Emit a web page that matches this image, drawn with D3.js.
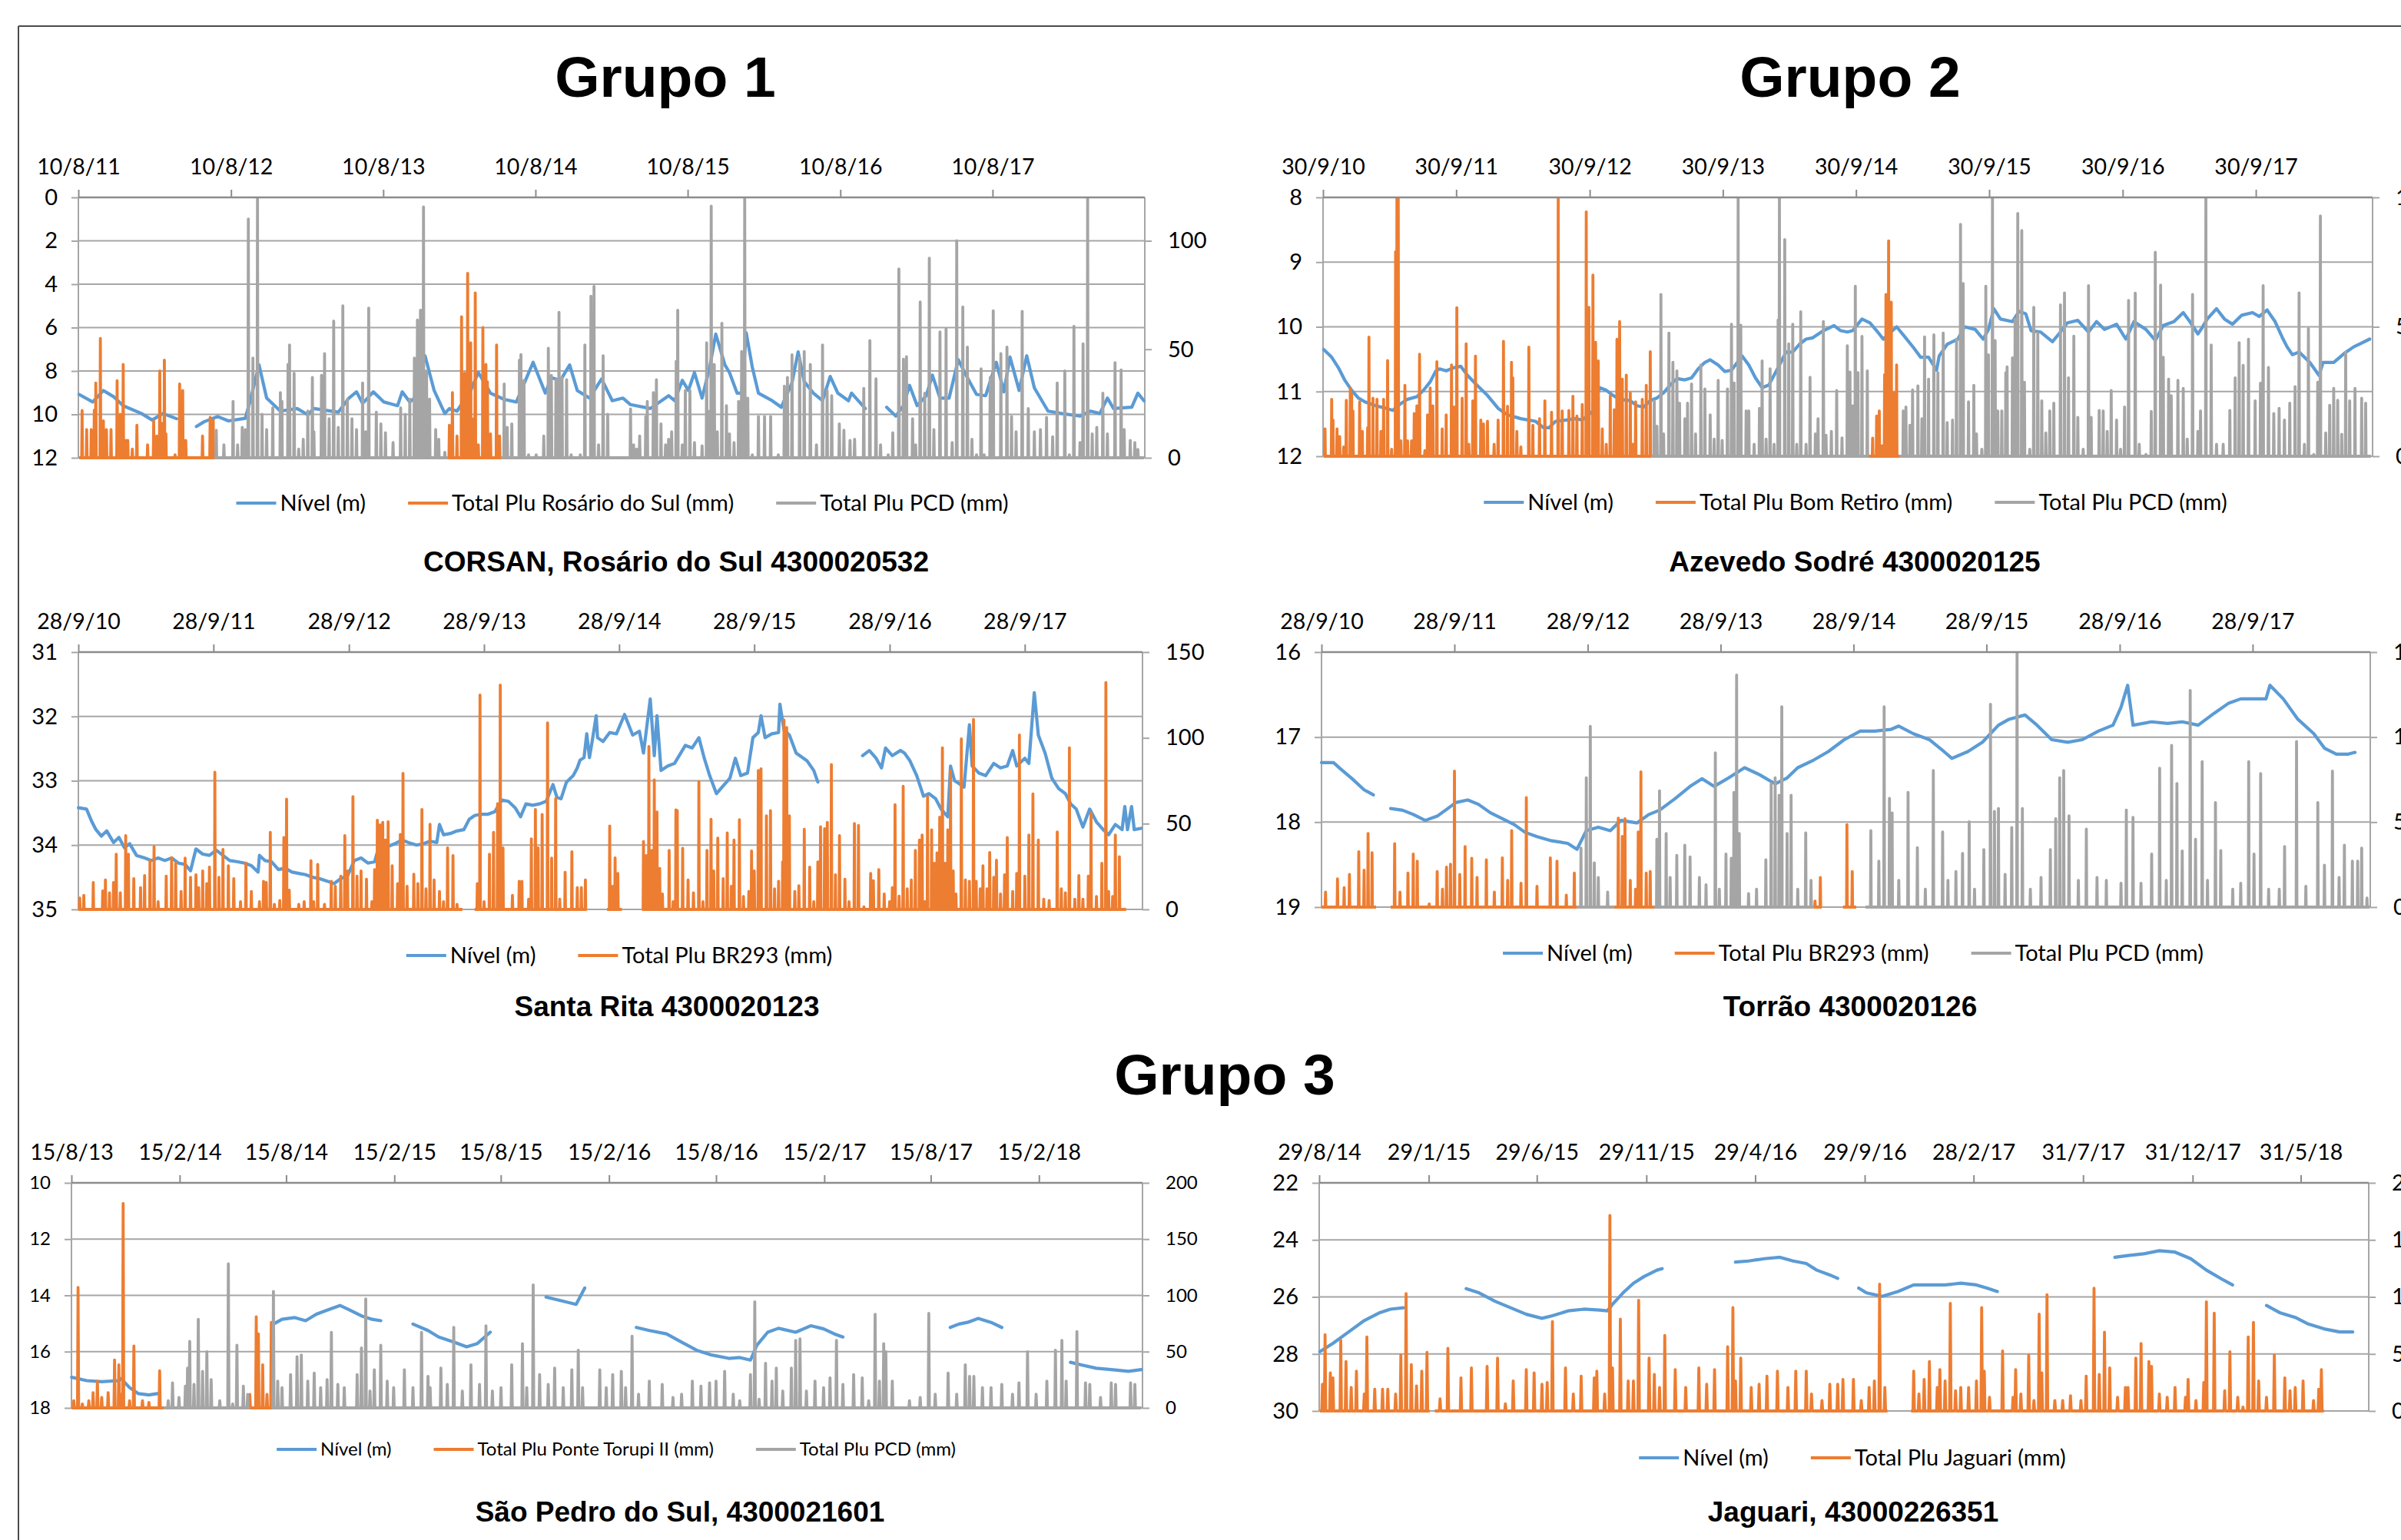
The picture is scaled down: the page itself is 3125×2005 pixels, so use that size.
<!DOCTYPE html>
<html><head><meta charset="utf-8">
<script src="https://cdn.jsdelivr.net/npm/d3@7"></script>
<style>
html,body{margin:0;padding:0;background:#fff;}
svg{display:block;}
</style></head><body>
<svg id="chart" width="3125" height="2005"></svg>
<script>
// ---------------- DATA ----------------
// x values are decimal years
const seriesNames = {
  level: "Nível (m)",
  pcd: "Total Plu PCD (mm)"
};

// Panel 1 – CORSAN, Rosário do Sul 4300020532
const p1TickLabels = ["10/8/11","10/8/12","10/8/13","10/8/14","10/8/15","10/8/16","10/8/17"];
const p1Level = [[2011.61,9.08],[2011.70,9.43],[2011.77,8.90],[2011.84,9.20],[2011.90,9.60],[2012.02,9.96],[2012.09,10.26],[2012.16,9.96],[2012.25,10.20],[2012.30,null],[2012.38,10.56],[2012.43,10.34],[2012.52,10.10],[2012.59,10.30],[2012.70,10.18],[2012.73,9.43],[2012.79,7.72],[2012.84,9.25],[2012.93,9.85],[2013.04,9.73],[2013.11,10.02],[2013.15,9.73],[2013.31,9.90],[2013.38,9.25],[2013.43,8.96],[2013.47,9.50],[2013.54,8.96],[2013.61,9.43],[2013.70,9.60],[2013.73,8.96],[2013.78,9.43],[2013.81,9.25],[2013.88,7.30],[2013.94,8.90],[2014.01,9.96],[2014.04,9.73],[2014.09,9.85],[2014.18,8.90],[2014.23,8.07],[2014.31,9.02],[2014.40,9.31],[2014.48,9.43],[2014.54,8.43],[2014.59,7.60],[2014.67,9.02],[2014.71,8.31],[2014.77,8.43],[2014.83,7.72],[2014.88,8.90],[2014.96,9.25],[2015.04,8.37],[2015.11,9.37],[2015.18,9.25],[2015.23,9.55],[2015.36,9.73],[2015.48,9.14],[2015.52,9.37],[2015.57,8.43],[2015.61,8.90],[2015.65,8.07],[2015.70,9.25],[2015.75,7.83],[2015.79,6.30],[2015.85,7.72],[2015.88,8.07],[2015.93,9.02],[2015.96,9.02],[2015.99,6.24],[2016.03,7.83],[2016.07,9.02],[2016.16,9.37],[2016.22,9.67],[2016.29,8.54],[2016.33,7.12],[2016.37,8.49],[2016.43,9.02],[2016.49,9.37],[2016.54,8.25],[2016.59,9.02],[2016.66,9.37],[2016.68,9.02],[2016.77,9.73],[2016.84,null],[2016.91,9.67],[2016.97,10.08],[2017.02,9.60],[2017.06,8.66],[2017.11,9.60],[2017.17,9.14],[2017.21,8.19],[2017.26,9.25],[2017.32,9.25],[2017.38,7.48],[2017.44,8.31],[2017.50,9.08],[2017.56,9.14],[2017.63,7.60],[2017.68,8.96],[2017.72,7.36],[2017.78,8.90],[2017.83,7.30],[2017.88,8.78],[2017.97,9.85],[2018.06,9.96],[2018.18,10.08],[2018.25,9.85],[2018.31,9.96],[2018.36,9.25],[2018.40,9.73],[2018.52,9.67],[2018.56,9.02],[2018.60,9.37]];
const p1Rosario = [[2011.63,21.8],[2011.66,13],[2011.69,13],[2011.71,22],[2011.72,34.5],[2011.75,55],[2011.77,17],[2011.79,13],[2011.82,13],[2011.86,35.5],[2011.88,20],[2011.90,43],[2011.92,8],[2011.93,8],[2011.96,4],[2011.99,15],[2012.06,6],[2012.10,17],[2012.12,10],[2012.14,40],[2012.15,16],[2012.17,45],[2012.18,11],[2012.24,1.4],[2012.27,34],[2012.29,31],[2012.31,8],[2012.42,10],[2012.47,18.6],[2012.49,17.4],[2014.04,15],[2014.06,30],[2014.09,10],[2014.12,65],[2014.14,39],[2014.16,85],[2014.18,53],[2014.20,18],[2014.21,76],[2014.23,6],[2014.26,60],[2014.28,43],[2014.29,35],[2014.31,11],[2014.35,52],[2014.37,10]];
const p1RosarioSpans = [[2011.61,2012.50],[2014.03,2014.38]];
const p1PCD = [[2012.51,12.7],[2012.56,6],[2012.62,26],[2012.65,6],[2012.68,14],[2012.70,13],[2012.72,110],[2012.75,46],[2012.78,120],[2012.81,20],[2012.84,13],[2012.88,23],[2012.93,30],[2012.94,26],[2012.98,43],[2012.99,52],[2013.02,39],[2013.05,4],[2013.08,8.5],[2013.11,21.5],[2013.14,37],[2013.15,12],[2013.20,38],[2013.22,48],[2013.25,18],[2013.28,63],[2013.31,14],[2013.34,70],[2013.37,27],[2013.40,18],[2013.43,13],[2013.47,34.5],[2013.49,12],[2013.51,69],[2013.56,21],[2013.59,15.6],[2013.62,11.5],[2013.67,7],[2013.72,23],[2013.75,20],[2013.78,27],[2013.81,46],[2013.83,63.5],[2013.85,68],[2013.86,68],[2013.87,115.6],[2013.89,40],[2013.91,27],[2013.95,13],[2013.97,8.5],[2014.01,2.5],[2014.40,34],[2014.42,14],[2014.45,15.6],[2014.50,45],[2014.51,47.6],[2014.53,35.7],[2014.56,1.4],[2014.61,1.4],[2014.66,10],[2014.69,50.5],[2014.71,38],[2014.74,36],[2014.76,67],[2014.78,37],[2014.81,36],[2014.84,1.4],[2014.90,1.4],[2014.93,52],[2014.97,74.5],[2014.99,79],[2015.02,6],[2015.05,47],[2015.08,20],[2015.23,22.5],[2015.25,6],[2015.27,4],[2015.29,10],[2015.33,19],[2015.34,26],[2015.38,30],[2015.40,36],[2015.43,15.6],[2015.46,6],[2015.48,8.5],[2015.50,12],[2015.53,44.5],[2015.54,68],[2015.57,6],[2015.59,31],[2015.62,31],[2015.65,7],[2015.70,5.5],[2015.73,53],[2015.75,21.5],[2015.76,116],[2015.78,43],[2015.80,12],[2015.83,62],[2015.86,24],[2015.88,11],[2015.91,7],[2015.94,26],[2015.96,49],[2015.98,120],[2016.00,27.5],[2016.03,1.4],[2016.07,19],[2016.11,19],[2016.15,19],[2016.20,1.4],[2016.24,33],[2016.26,37],[2016.29,47.5],[2016.34,46],[2016.37,49],[2016.41,43],[2016.45,6],[2016.49,52],[2016.52,31],[2016.55,28.6],[2016.60,15.6],[2016.63,12.7],[2016.67,8],[2016.70,8.5],[2016.76,32],[2016.80,54],[2016.84,36.4],[2016.87,6],[2016.92,1.4],[2016.95,11.5],[2016.99,87],[2017.02,45.4],[2017.04,46.6],[2017.08,18],[2017.10,6],[2017.13,71.8],[2017.16,29.8],[2017.19,92],[2017.22,13],[2017.26,58],[2017.30,59.4],[2017.34,7],[2017.37,100],[2017.41,69.5],[2017.44,51],[2017.47,8.5],[2017.50,1.4],[2017.53,41],[2017.55,1.4],[2017.59,37],[2017.61,67.7],[2017.66,48],[2017.70,51],[2017.73,19],[2017.76,12],[2017.80,67.5],[2017.84,22.7],[2017.88,12],[2017.92,13],[2017.96,18.6],[2018.00,9.7],[2018.03,34.5],[2018.08,40],[2018.11,1.4],[2018.14,60.6],[2018.18,7],[2018.20,52.5],[2018.23,120],[2018.26,11],[2018.29,14],[2018.33,29.8],[2018.36,11],[2018.41,43.8],[2018.45,40.5],[2018.47,13],[2018.51,8],[2018.54,7],[2018.56,3.8]];
const p1PCDSpans = [[2012.50,2014.03],[2014.38,2018.60]];

// Panel 2 – Azevedo Sodré 4300020125
const p2TickLabels = ["30/9/10","30/9/11","30/9/12","30/9/13","30/9/14","30/9/15","30/9/16","30/9/17"];
const p2Level = [[2010.75,10.35],[2010.81,10.47],[2010.86,10.63],[2010.91,10.83],[2010.96,10.98],[2011.01,11.10],[2011.06,11.16],[2011.14,11.22],[2011.22,11.26],[2011.27,11.29],[2011.32,11.20],[2011.38,11.12],[2011.45,11.08],[2011.50,10.98],[2011.55,10.85],[2011.59,10.69],[2011.62,10.65],[2011.67,10.68],[2011.73,10.63],[2011.78,10.61],[2011.83,10.75],[2011.90,10.90],[2011.98,11.06],[2012.06,11.26],[2012.13,11.36],[2012.23,11.42],[2012.34,11.46],[2012.40,11.56],[2012.44,11.56],[2012.49,11.46],[2012.57,11.44],[2012.64,11.42],[2012.69,11.44],[2012.77,11.30],[2012.82,10.94],[2012.87,10.98],[2012.92,11.06],[2012.97,11.12],[2013.05,11.14],[2013.10,11.22],[2013.15,11.24],[2013.20,11.14],[2013.25,11.10],[2013.30,11.02],[2013.35,10.90],[2013.40,10.80],[2013.46,10.82],[2013.51,10.79],[2013.56,10.65],[2013.61,10.55],[2013.65,10.51],[2013.71,10.59],[2013.76,10.69],[2013.81,10.67],[2013.89,10.45],[2013.94,10.59],[2013.99,10.79],[2014.04,10.94],[2014.09,10.90],[2014.14,10.71],[2014.22,10.39],[2014.27,10.39],[2014.32,10.27],[2014.37,10.19],[2014.42,10.17],[2014.50,10.06],[2014.58,9.98],[2014.63,10.06],[2014.68,10.08],[2014.72,10.06],[2014.79,9.88],[2014.85,9.94],[2014.90,10.06],[2014.95,10.19],[2015.05,10.00],[2015.11,10.15],[2015.18,10.33],[2015.23,10.47],[2015.29,10.47],[2015.35,10.67],[2015.37,10.45],[2015.43,10.27],[2015.51,10.19],[2015.56,10.00],[2015.64,10.04],[2015.70,10.19],[2015.74,10.04],[2015.78,9.72],[2015.83,9.88],[2015.92,9.92],[2015.97,9.76],[2016.02,9.80],[2016.06,10.06],[2016.13,10.08],[2016.22,10.23],[2016.28,10.08],[2016.33,9.94],[2016.41,9.90],[2016.49,10.08],[2016.55,9.92],[2016.61,10.04],[2016.70,9.96],[2016.77,10.19],[2016.83,9.92],[2016.92,10.04],[2016.99,10.21],[2017.05,9.98],[2017.13,9.92],[2017.20,9.78],[2017.25,9.92],[2017.31,10.11],[2017.34,10.02],[2017.38,9.88],[2017.45,9.72],[2017.51,9.88],[2017.57,9.96],[2017.64,9.82],[2017.72,9.78],[2017.77,9.84],[2017.83,9.74],[2017.89,9.92],[2017.95,10.19],[2017.98,10.31],[2018.02,10.43],[2018.07,10.39],[2018.15,10.55],[2018.22,10.75],[2018.25,10.55],[2018.33,10.55],[2018.41,10.41],[2018.48,10.31],[2018.54,10.25],[2018.60,10.19]];
const p2BomRetiro = [[2010.76,10.6],[2010.81,22],[2010.82,14],[2010.85,10.6],[2010.87,7.6],[2010.90,3.6],[2010.92,21.6],[2010.95,26.4],[2010.96,24],[2010.97,17.5],[2011.02,21],[2011.04,9.6],[2011.08,11],[2011.09,46],[2011.12,22.4],[2011.15,22],[2011.18,9.6],[2011.20,22],[2011.23,37],[2011.26,2.7],[2011.29,79],[2011.30,100],[2011.31,100],[2011.33,6],[2011.36,27.4],[2011.38,6],[2011.41,6],[2011.43,16.5],[2011.45,19.5],[2011.47,39.4],[2011.51,2.2],[2011.53,16],[2011.55,26.4],[2011.57,19.5],[2011.60,36.5],[2011.64,10.6],[2011.67,16],[2011.71,35.3],[2011.73,19],[2011.75,57.4],[2011.79,22.4],[2011.82,43.4],[2011.84,4.6],[2011.87,21.4],[2011.89,38.7],[2011.93,14],[2011.95,12.5],[2011.98,13.5],[2012.03,4.6],[2012.06,14],[2012.10,44.4],[2012.13,19.3],[2012.16,36.3],[2012.17,30.3],[2012.20,9.6],[2012.23,3.6],[2012.29,42.2],[2012.32,12],[2012.37,14.5],[2012.41,21.4],[2012.46,17],[2012.51,100],[2012.54,17.5],[2012.59,17.7],[2012.62,23.2],[2012.65,15.5],[2012.69,20],[2012.72,94.4],[2012.74,57.5],[2012.77,70],[2012.79,44],[2012.81,36.8],[2012.84,10.6],[2012.87,4.6],[2012.90,23.4],[2012.93,18],[2012.95,45.2],[2012.97,52],[2012.99,29.8],[2013.02,31.3],[2013.05,24.4],[2013.07,4.6],[2013.09,21],[2013.14,22],[2013.17,27.4],[2013.20,40.4],[2014.87,7],[2014.90,15.5],[2014.92,17.5],[2014.94,4],[2014.96,31.5],[2014.97,62.5],[2014.99,83.2],[2015.01,59.5],[2015.03,24.4],[2015.05,35.3]];
const p2BomRetiroSpans = [[2010.75,2013.21],[2014.84,2015.07]];
const p2PCD = [[2013.23,21.4],[2013.25,11.6],[2013.28,62.5],[2013.30,8.6],[2013.34,47.6],[2013.37,36.3],[2013.40,33],[2013.42,20.5],[2013.46,14.5],[2013.48,20.5],[2013.51,27.9],[2013.54,8.6],[2013.58,35.3],[2013.61,26],[2013.65,16],[2013.68,6.6],[2013.71,29.3],[2013.74,6.1],[2013.78,26],[2013.81,51],[2013.83,28.3],[2013.86,100],[2013.88,50.6],[2013.92,17.5],[2013.94,17.5],[2013.98,4.6],[2014.02,18.5],[2014.04,36.8],[2014.07,6.6],[2014.10,33.8],[2014.13,4.6],[2014.16,52.6],[2014.17,100],[2014.21,83.7],[2014.24,43.4],[2014.27,51],[2014.30,4.6],[2014.33,55.8],[2014.37,4.6],[2014.40,30.5],[2014.44,8.6],[2014.46,14.5],[2014.50,52],[2014.52,8.1],[2014.56,9.6],[2014.60,25.4],[2014.64,7.1],[2014.68,42.7],[2014.70,32.5],[2014.72,19.5],[2014.74,65.7],[2014.76,32.3],[2014.79,46.3],[2014.83,33],[2015.10,17.5],[2015.12,19],[2015.15,12],[2015.17,25.6],[2015.21,27.2],[2015.24,14.5],[2015.26,46.1],[2015.29,29.8],[2015.33,46.9],[2015.36,32.3],[2015.40,47.6],[2015.43,13],[2015.47,14],[2015.50,45.2],[2015.53,89.6],[2015.55,66.7],[2015.59,21],[2015.63,27.4],[2015.65,8.6],[2015.69,2.7],[2015.72,65.7],[2015.74,39.2],[2015.77,100],[2015.79,44.7],[2015.81,17.5],[2015.84,17.5],[2015.87,32.3],[2015.88,34.5],[2015.92,38],[2015.94,52.9],[2015.96,93.8],[2015.99,87.2],[2016.01,28.6],[2016.05,2.7],[2016.08,57.5],[2016.11,47.6],[2016.14,21.4],[2016.17,9],[2016.20,17.5],[2016.23,20.5],[2016.28,58.5],[2016.31,63.1],[2016.34,30.3],[2016.38,46.4],[2016.41,15],[2016.45,2.7],[2016.49,65.9],[2016.51,15],[2016.57,17.7],[2016.60,17.5],[2016.63,9.6],[2016.66,25.4],[2016.70,14],[2016.73,2.7],[2016.76,19],[2016.79,60.2],[2016.84,63],[2016.87,4.6],[2016.92,0.7],[2016.96,17.3],[2016.99,78.8],[2017.03,66.1],[2017.05,38.2],[2017.09,29.8],[2017.11,23.4],[2017.16,29.3],[2017.20,26.2],[2017.23,6.6],[2017.27,62.5],[2017.31,9.6],[2017.33,17.5],[2017.37,100],[2017.41,43],[2017.45,4.6],[2017.50,4.6],[2017.55,17.7],[2017.59,30.3],[2017.62,43.9],[2017.65,35.1],[2017.69,45.2],[2017.74,21.4],[2017.78,28.2],[2017.80,65.9],[2017.84,34.3],[2017.88,16.5],[2017.92,18.5],[2017.96,14],[2018.00,20.5],[2018.04,26.9],[2018.07,63.1],[2018.11,4.6],[2018.14,49.3],[2018.18,0.7],[2018.21,28.6],[2018.23,92.8],[2018.27,9],[2018.30,19.7],[2018.33,26.2],[2018.36,21.6],[2018.39,8.5],[2018.42,40.2],[2018.45,21.4],[2018.49,26.2],[2018.54,22.4],[2018.57,20.5]];
const p2PCDSpans = [[2013.21,2014.84],[2015.07,2018.61]];

// Panel 3 – Santa Rita 4300020123
const p3TickLabels = ["28/9/10","28/9/11","28/9/12","28/9/13","28/9/14","28/9/15","28/9/16","28/9/17"];
const p3Level = [[2010.74,33.42],[2010.80,33.44],[2010.84,33.64],[2010.87,33.76],[2010.91,33.86],[2010.95,33.78],[2011.00,33.96],[2011.04,33.88],[2011.08,34.04],[2011.12,33.98],[2011.17,34.16],[2011.23,34.20],[2011.28,34.24],[2011.33,34.20],[2011.38,34.24],[2011.43,34.20],[2011.48,34.28],[2011.53,34.30],[2011.57,34.40],[2011.61,34.06],[2011.66,34.14],[2011.71,34.16],[2011.76,34.08],[2011.81,34.16],[2011.86,34.24],[2011.92,34.26],[2011.97,34.28],[2012.02,34.32],[2012.07,34.42],[2012.08,34.16],[2012.12,34.24],[2012.17,34.26],[2012.22,34.38],[2012.27,34.36],[2012.32,34.42],[2012.37,34.44],[2012.42,34.46],[2012.47,34.50],[2012.52,34.52],[2012.58,34.56],[2012.63,34.60],[2012.68,34.52],[2012.73,34.48],[2012.78,34.24],[2012.83,34.20],[2012.88,34.28],[2012.93,34.26],[2012.97,33.96],[2013.03,34.02],[2013.08,33.98],[2013.13,33.92],[2013.18,33.96],[2013.24,34.00],[2013.29,33.98],[2013.34,33.94],[2013.39,33.96],[2013.41,33.68],[2013.44,33.84],[2013.49,33.82],[2013.54,33.78],[2013.59,33.76],[2013.63,33.60],[2013.67,33.54],[2013.72,33.52],[2013.77,33.52],[2013.82,33.48],[2013.87,33.30],[2013.92,33.32],[2013.97,33.42],[2014.01,33.56],[2014.05,33.36],[2014.10,33.38],[2014.15,33.36],[2014.20,33.32],[2014.25,33.06],[2014.28,33.26],[2014.31,33.28],[2014.35,33.02],[2014.40,32.92],[2014.43,32.80],[2014.45,32.68],[2014.48,32.64],[2014.50,32.27],[2014.52,32.64],[2014.54,32.39],[2014.57,31.99],[2014.58,32.33],[2014.62,32.39],[2014.67,32.25],[2014.72,32.27],[2014.78,31.97],[2014.84,32.29],[2014.89,32.23],[2014.92,32.57],[2014.97,31.73],[2015.00,32.61],[2015.02,31.99],[2015.05,32.84],[2015.10,32.77],[2015.15,32.73],[2015.23,32.45],[2015.28,32.49],[2015.33,32.33],[2015.37,32.65],[2015.41,32.92],[2015.46,33.20],[2015.51,33.08],[2015.56,32.96],[2015.60,32.65],[2015.64,32.92],[2015.69,32.88],[2015.73,32.33],[2015.77,32.25],[2015.79,31.99],[2015.82,32.33],[2015.87,32.27],[2015.92,32.25],[2015.93,31.81],[2015.96,32.21],[2016.00,32.29],[2016.05,32.57],[2016.13,32.69],[2016.18,32.84],[2016.21,33.02],[2016.30,null],[2016.54,32.61],[2016.59,32.53],[2016.64,32.65],[2016.68,32.80],[2016.71,32.49],[2016.76,32.61],[2016.82,32.53],[2016.85,32.57],[2016.89,32.69],[2016.94,32.92],[2016.99,33.24],[2017.03,33.20],[2017.08,33.28],[2017.12,33.44],[2017.17,33.56],[2017.19,32.77],[2017.22,33.00],[2017.25,33.04],[2017.29,33.10],[2017.33,32.13],[2017.35,32.77],[2017.40,32.88],[2017.45,32.92],[2017.51,32.73],[2017.56,32.80],[2017.61,32.77],[2017.65,32.53],[2017.68,32.77],[2017.74,32.65],[2017.77,32.73],[2017.81,31.63],[2017.84,32.29],[2017.89,32.57],[2017.94,32.96],[2017.99,33.12],[2018.04,33.20],[2018.08,33.36],[2018.12,33.44],[2018.17,33.72],[2018.22,33.44],[2018.27,33.64],[2018.32,33.76],[2018.36,33.84],[2018.41,33.68],[2018.46,33.76],[2018.48,33.40],[2018.50,33.76],[2018.53,33.40],[2018.55,33.76],[2018.60,33.74]];
const p3BR293 = [[2010.75,6.7],[2010.78,8.2],[2010.85,15.7],[2010.92,10.8],[2010.94,17.2],[2010.97,9.7],[2011.00,15.7],[2011.02,32.2],[2011.05,9.7],[2011.09,43],[2011.11,32.2],[2011.15,18],[2011.20,12.7],[2011.23,19.7],[2011.27,28.4],[2011.30,36.6],[2011.33,4.5],[2011.39,19.4],[2011.43,30.2],[2011.46,27],[2011.50,10.5],[2011.53,29.9],[2011.57,18.7],[2011.61,20.2],[2011.63,12.7],[2011.66,22.4],[2011.69,15],[2011.71,24.7],[2011.75,80],[2011.78,18.7],[2011.81,35],[2011.85,25.4],[2011.89,18],[2011.94,4.5],[2011.98,27],[2012.02,10.5],[2012.08,4.5],[2012.11,16.4],[2012.13,15.7],[2012.16,44.9],[2012.19,3],[2012.23,5.2],[2012.26,41.9],[2012.28,64.3],[2012.30,11.2],[2012.37,3],[2012.41,4.5],[2012.46,28.4],[2012.48,4.5],[2012.51,26.2],[2012.56,3],[2012.61,16.4],[2012.64,13.5],[2012.68,19.4],[2012.71,43],[2012.73,22.4],[2012.77,65.8],[2012.80,19.4],[2012.83,22.4],[2012.87,17.6],[2012.91,4.5],[2012.93,23.2],[2012.95,52],[2012.97,49.3],[2012.99,50.8],[2013.01,40.4],[2013.03,51.1],[2013.06,25.4],[2013.10,15],[2013.12,43.7],[2013.14,79.3],[2013.17,13.5],[2013.22,20.5],[2013.25,15],[2013.28,58.3],[2013.31,12],[2013.34,49.6],[2013.37,17.2],[2013.41,10.5],[2013.44,4.5],[2013.47,35.9],[2013.51,31.4],[2013.54,3],[2013.69,15],[2013.71,125],[2013.74,4.5],[2013.78,32.2],[2013.81,44.9],[2013.84,61.6],[2013.86,130.8],[2013.88,35.9],[2013.95,8.2],[2014.00,16.4],[2014.02,16.4],[2014.07,6],[2014.09,41.1],[2014.12,58.3],[2014.14,35.9],[2014.17,55.3],[2014.21,108.7],[2014.24,29.9],[2014.27,64.6],[2014.30,6],[2014.34,21.7],[2014.39,33.6],[2014.43,12.7],[2014.46,12.7],[2014.49,17.2],[2014.67,48.6],[2014.69,13.5],[2014.71,30],[2014.73,21],[2014.92,39.6],[2014.94,31.4],[2014.96,95],[2014.98,34.4],[2015.00,75.5],[2015.02,56.8],[2015.04,23.9],[2015.06,9],[2015.11,34.4],[2015.14,4.5],[2015.16,58],[2015.17,57.6],[2015.21,35.6],[2015.25,17.2],[2015.29,9.7],[2015.33,74.5],[2015.36,4.5],[2015.39,34.4],[2015.42,52.6],[2015.44,22.4],[2015.47,41.6],[2015.51,18],[2015.54,44.6],[2015.57,13.5],[2015.59,40.4],[2015.63,52.3],[2015.66,7.5],[2015.70,10.5],[2015.72,34.1],[2015.74,22.4],[2015.77,81],[2015.79,82],[2015.83,54.6],[2015.86,57.6],[2015.89,12],[2015.92,16.4],[2015.95,27.7],[2015.96,110.4],[2015.98,106],[2016.00,54.6],[2016.04,10.5],[2016.07,13.8],[2016.11,46.7],[2016.15,24.7],[2016.18,4.5],[2016.21,27.7],[2016.23,48.2],[2016.26,47.1],[2016.28,50.8],[2016.31,84.5],[2016.34,20.2],[2016.37,43],[2016.41,17.6],[2016.44,4.5],[2016.48,50.1],[2016.51,49],[2016.55,1.5],[2016.60,21],[2016.62,16.7],[2016.66,23.2],[2016.70,9],[2016.74,4.5],[2016.76,12.7],[2016.78,61],[2016.81,7.8],[2016.84,71.8],[2016.87,12],[2016.90,17.2],[2016.93,34.4],[2016.96,40.4],[2016.98,43.4],[2017.00,4.5],[2017.02,65.8],[2017.05,46.4],[2017.07,26.9],[2017.09,32.9],[2017.11,53.8],[2017.13,94.2],[2017.15,26.9],[2017.17,46.4],[2017.19,80.8],[2017.21,22.4],[2017.23,9],[2017.27,99.4],[2017.30,17.2],[2017.33,16.4],[2017.36,110.7],[2017.38,16.4],[2017.41,12],[2017.43,25.4],[2017.46,12],[2017.48,33.2],[2017.51,18.7],[2017.53,28.7],[2017.56,9],[2017.59,20.2],[2017.61,41.9],[2017.65,10.5],[2017.68,21],[2017.70,101.7],[2017.74,19.4],[2017.77,43.4],[2017.80,67.3],[2017.84,40.4],[2017.88,6],[2017.92,5.2],[2017.98,45.2],[2018.01,12],[2018.04,9.7],[2018.07,94.2],[2018.11,6],[2018.14,19.7],[2018.17,6],[2018.21,19.4],[2018.23,56.1],[2018.27,7.5],[2018.31,26.9],[2018.34,132.3],[2018.36,10.5],[2018.39,7.5],[2018.41,43.4],[2018.44,30.7]];
const p3BR293Spans = [[2010.74,2013.58],[2013.67,2014.50],[2014.65,2014.76],[2014.91,2018.49]];

// Panel 4 – Torrão 4300020126
const p4TickLabels = ["28/9/10","28/9/11","28/9/12","28/9/13","28/9/14","28/9/15","28/9/16","28/9/17"];
const p4Level = [[2010.74,17.30],[2010.83,17.30],[2010.88,17.37],[2010.97,17.49],[2011.06,17.62],[2011.13,17.68],[2011.20,null],[2011.26,17.84],[2011.35,17.86],[2011.43,17.91],[2011.52,17.98],[2011.61,17.93],[2011.69,17.84],[2011.75,17.77],[2011.84,17.74],[2011.92,17.79],[2012.01,17.89],[2012.10,17.96],[2012.19,18.03],[2012.27,18.12],[2012.36,18.17],[2012.47,18.22],[2012.59,18.25],[2012.66,18.32],[2012.73,18.10],[2012.82,18.06],[2012.91,18.10],[2012.99,17.98],[2013.11,18.01],[2013.20,17.91],[2013.28,17.86],[2013.40,17.72],[2013.51,17.58],[2013.60,17.49],[2013.69,17.58],[2013.80,17.48],[2013.92,17.36],[2014.03,17.44],[2014.15,17.55],[2014.24,17.48],[2014.32,17.36],[2014.44,17.27],[2014.55,17.17],[2014.67,17.03],[2014.79,16.93],[2014.90,16.93],[2015.02,16.91],[2015.08,16.87],[2015.19,16.96],[2015.31,17.03],[2015.42,17.17],[2015.48,17.25],[2015.60,17.17],[2015.71,17.06],[2015.83,16.86],[2015.91,16.79],[2016.03,16.74],[2016.12,16.86],[2016.23,17.03],[2016.35,17.06],[2016.46,17.03],[2016.58,16.93],[2016.69,16.86],[2016.75,16.65],[2016.80,16.39],[2016.84,16.86],[2016.98,16.82],[2017.10,16.84],[2017.21,16.82],[2017.33,16.86],[2017.45,16.72],[2017.56,16.60],[2017.65,16.55],[2017.84,16.55],[2017.87,16.39],[2017.97,16.55],[2018.08,16.79],[2018.20,16.96],[2018.28,17.13],[2018.37,17.20],[2018.46,17.20],[2018.51,17.18]];
const p4BR293 = [[2010.77,8.8],[2010.86,16.6],[2010.91,11.4],[2010.95,19.2],[2011.02,32.6],[2011.06,21.7],[2011.09,43.3],[2011.12,32],[2011.29,37.3],[2011.33,8.8],[2011.39,20],[2011.43,31.2],[2011.46,27],[2011.55,1.9],[2011.61,20.9],[2011.65,10.5],[2011.68,23.5],[2011.71,25.2],[2011.74,80],[2011.78,19.2],[2011.82,35.6],[2011.87,28.7],[2011.91,17.4],[2011.98,27.8],[2012.04,8.8],[2012.10,29],[2012.14,15.7],[2012.17,45],[2012.24,14],[2012.28,64.4],[2012.36,12.3],[2012.46,29],[2012.51,27],[2012.58,7],[2012.64,20],[2012.97,52.3],[2013.00,41.6],[2013.02,52],[2013.06,15.7],[2013.10,10.5],[2013.12,44.2],[2013.14,79.6],[2013.18,20],[2013.21,20.9],[2014.45,3.6],[2014.49,17.4],[2014.69,48.5],[2014.73,20.9]];
const p4BR293Spans = [[2010.74,2011.15],[2011.26,2012.66],[2012.94,2013.24],[2014.44,2014.50],[2014.66,2014.76]];
const p4PCD = [[2012.69,34.7],[2012.73,76.1],[2012.76,106.3],[2012.79,26],[2012.82,17.4],[2012.89,8.8],[2013.26,39.9],[2013.28,68.4],[2013.33,43.3],[2013.36,17.4],[2013.41,30.4],[2013.47,36.4],[2013.51,29.5],[2013.58,17.4],[2013.63,13.1],[2013.70,90.8],[2013.73,10.5],[2013.78,31.2],[2013.82,28.7],[2013.84,67.5],[2013.86,136.5],[2013.88,43.3],[2013.95,7.9],[2014.01,10.5],[2014.08,27.8],[2014.12,72.7],[2014.15,76.1],[2014.18,65.8],[2014.20,117.9],[2014.24,43.3],[2014.27,65.8],[2014.32,10.5],[2014.38,43.7],[2014.42,15.7],[2014.87,45],[2014.93,27],[2014.97,117.9],[2015.01,64],[2015.03,55.4],[2015.08,15.7],[2015.15,67.5],[2015.22,35],[2015.28,10.5],[2015.34,80.3],[2015.41,44.2],[2015.45,15.7],[2015.51,20.9],[2015.56,31.6],[2015.61,50.2],[2015.65,10.5],[2015.72,33.8],[2015.77,119.3],[2015.80,56.3],[2015.83,58],[2015.88,19.2],[2015.93,46.8],[2015.97,149.5],[2016.01,58],[2016.07,10.5],[2016.15,17.4],[2016.22,33.8],[2016.26,52],[2016.29,76.1],[2016.32,80.4],[2016.36,53.7],[2016.43,15.7],[2016.49,45.9],[2016.57,17.4],[2016.64,15.7],[2016.75,14],[2016.79,57.1],[2016.84,52.8],[2016.90,14],[2016.98,31.2],[2017.04,81.7],[2017.09,15.7],[2017.13,95.1],[2017.17,72.7],[2017.21,33],[2017.27,127.4],[2017.31,39.9],[2017.36,85.6],[2017.40,15.7],[2017.46,61.5],[2017.50,33.3],[2017.59,10.5],[2017.65,14],[2017.71,85.6],[2017.75,31.2],[2017.80,78.5],[2017.86,10.5],[2017.94,10.5],[2017.98,35.6],[2018.07,97.4],[2018.14,12.3],[2018.23,61.5],[2018.28,24.7],[2018.34,80],[2018.39,17.4],[2018.43,36.4],[2018.49,27],[2018.53,27],[2018.56,34.7],[2018.60,5.4]];
const p4PCDSpans = [[2012.66,2012.94],[2013.24,2014.44],[2014.83,2018.62]];

// Panel 5 – São Pedro do Sul, 4300021601
const p5TickLabels = ["15/8/13","15/2/14","15/8/14","15/2/15","15/8/15","15/2/16","15/8/16","15/2/17","15/8/17","15/2/18"];
const p5Level = [[2013.62,16.91],[2013.69,17.03],[2013.76,17.07],[2013.84,17.03],[2013.85,16.96],[2013.89,17.28],[2013.93,17.49],[2013.98,17.54],[2014.02,17.49],[2014.30,null],[2014.56,15.02],[2014.60,14.85],[2014.66,14.79],[2014.71,14.90],[2014.76,14.67],[2014.82,14.50],[2014.87,14.36],[2014.91,14.50],[2014.97,14.73],[2015.02,14.85],[2015.06,14.90],[2015.14,null],[2015.21,15.02],[2015.28,15.25],[2015.33,15.48],[2015.40,15.66],[2015.46,15.83],[2015.51,15.71],[2015.57,15.31],[2015.70,null],[2015.83,14.06],[2015.89,14.17],[2015.97,14.32],[2016.01,13.74],[2016.13,null],[2016.25,15.14],[2016.31,15.25],[2016.39,15.37],[2016.46,15.66],[2016.53,15.95],[2016.60,16.12],[2016.68,16.24],[2016.73,16.21],[2016.78,16.30],[2016.81,15.77],[2016.86,15.31],[2016.91,15.17],[2016.99,15.31],[2017.06,15.08],[2017.12,15.19],[2017.17,15.37],[2017.21,15.48],[2017.45,null],[2017.71,15.14],[2017.75,15.02],[2017.79,14.96],[2017.84,14.82],[2017.90,14.96],[2017.95,15.14],[2018.10,null],[2018.27,16.38],[2018.32,16.47],[2018.39,16.59],[2018.46,16.64],[2018.54,16.70],[2018.60,16.64]];
const p5Torupi = [[2013.63,6.4],[2013.65,107],[2013.67,3.5],[2013.70,6.4],[2013.72,13.6],[2013.74,23.8],[2013.76,9.3],[2013.79,13.6],[2013.82,42.6],[2013.84,38.3],[2013.85,12],[2013.86,181.7],[2013.89,6.4],[2013.91,55],[2013.95,6.4],[2013.98,4.9],[2014.03,33],[2014.45,12],[2014.48,81],[2014.49,65.8],[2014.51,38.3],[2014.53,12],[2014.55,76]];
const p5TorupiSpans = [[2013.62,2014.05],[2014.44,2014.56]];
const p5PCD = [[2014.07,6.4],[2014.09,22.3],[2014.12,9.3],[2014.15,19.4],[2014.16,35.4],[2014.17,59.1],[2014.19,20.9],[2014.21,78.8],[2014.23,32.5],[2014.25,49.9],[2014.27,25.2],[2014.31,6.4],[2014.35,128],[2014.37,3.5],[2014.39,55.7],[2014.42,19.4],[2014.44,12],[2014.56,103.5],[2014.58,23.8],[2014.60,18],[2014.64,29.6],[2014.67,45.5],[2014.69,47],[2014.72,23.8],[2014.75,31],[2014.78,18],[2014.81,25.2],[2014.83,67.2],[2014.86,20.9],[2014.89,18],[2014.95,29.6],[2014.97,53.3],[2014.99,96.8],[2015.01,15],[2015.03,33.9],[2015.06,55.7],[2015.09,23.8],[2015.12,18],[2015.17,33.9],[2015.21,18],[2015.25,67.2],[2015.28,28],[2015.29,18],[2015.34,35.4],[2015.37,20.9],[2015.40,71.6],[2015.44,15],[2015.48,38.3],[2015.52,20.9],[2015.55,73],[2015.58,15],[2015.62,18],[2015.67,38.3],[2015.72,57.1],[2015.74,18],[2015.77,109.3],[2015.80,29.6],[2015.84,20.9],[2015.87,35.4],[2015.91,18],[2015.95,33.9],[2015.98,51.3],[2016.00,18],[2016.08,33.9],[2016.11,18],[2016.14,29.6],[2016.18,32.5],[2016.20,18],[2016.23,63.8],[2016.26,12.2],[2016.31,23.8],[2016.37,20.9],[2016.42,9.3],[2016.46,12.2],[2016.51,23.8],[2016.55,19.4],[2016.59,22.3],[2016.62,23.8],[2016.66,32.5],[2016.70,12.2],[2016.73,6.4],[2016.78,29.6],[2016.80,94.2],[2016.82,7.8],[2016.85,39.7],[2016.88,23.8],[2016.90,35.4],[2016.93,15],[2016.97,35.4],[2016.99,60],[2017.01,61.4],[2017.04,15],[2017.08,23.8],[2017.12,18],[2017.15,26.7],[2017.18,60],[2017.21,20.9],[2017.26,29.6],[2017.30,26.7],[2017.33,6.4],[2017.36,83.2],[2017.38,23.8],[2017.40,57.1],[2017.41,49.9],[2017.44,23.8],[2017.52,6.4],[2017.57,9.3],[2017.61,84],[2017.64,12.2],[2017.70,31],[2017.74,12.2],[2017.78,38.3],[2017.80,28],[2017.82,28],[2017.86,18],[2017.90,18],[2017.95,20.9],[2018.00,12.2],[2018.03,22.3],[2018.07,49.9],[2018.11,12.2],[2018.16,23.8],[2018.20,51.3],[2018.23,60],[2018.25,23.8],[2018.30,67.8],[2018.34,22.3],[2018.36,20.9],[2018.41,9.3],[2018.46,22.3],[2018.48,20.9],[2018.55,22.3],[2018.57,20.9]];
const p5PCDSpans = [[2014.05,2014.45],[2014.56,2018.60]];

// Panel 6 – Jaguari, 43000226351
const p6TickLabels = ["29/8/14","29/1/15","29/6/15","29/11/15","29/4/16","29/9/16","28/2/17","31/7/17","31/12/17","31/5/18"];
const p6Level = [[2014.66,27.92],[2014.71,27.63],[2014.77,27.23],[2014.83,26.83],[2014.89,26.55],[2014.93,26.43],[2014.98,26.38],[2015.10,null],[2015.22,25.71],[2015.27,25.86],[2015.33,26.15],[2015.39,26.38],[2015.45,26.61],[2015.51,26.75],[2015.55,26.66],[2015.61,26.49],[2015.67,26.43],[2015.73,26.46],[2015.76,26.49],[2015.78,26.26],[2015.82,25.86],[2015.86,25.52],[2015.90,25.29],[2015.95,25.06],[2015.97,25.01],[2016.10,null],[2016.25,24.78],[2016.30,24.74],[2016.36,24.66],[2016.42,24.61],[2016.47,24.74],[2016.52,24.83],[2016.56,25.06],[2016.61,25.23],[2016.64,25.35],[2016.68,null],[2016.72,25.69],[2016.75,25.86],[2016.81,25.98],[2016.87,25.81],[2016.93,25.58],[2016.99,25.58],[2017.05,25.58],[2017.11,25.52],[2017.17,25.58],[2017.21,25.69],[2017.25,25.81],[2017.50,null],[2017.70,24.61],[2017.75,24.55],[2017.81,24.49],[2017.87,24.38],[2017.93,24.43],[2017.99,24.66],[2018.05,25.06],[2018.11,25.38],[2018.15,25.58],[2018.20,null],[2018.28,26.30],[2018.33,26.55],[2018.39,26.72],[2018.44,26.95],[2018.50,27.12],[2018.56,27.23],[2018.61,27.23]];
const p6Jaguari = [[2014.67,23.4],[2014.68,66.9],[2014.70,33.4],[2014.71,29.1],[2014.74,62],[2014.76,43.4],[2014.78,20.6],[2014.80,34.9],[2014.83,14.9],[2014.84,64.9],[2014.87,19.1],[2014.90,19.1],[2014.92,19.1],[2014.95,14.9],[2014.97,49.1],[2014.99,102.9],[2015.01,40.6],[2015.03,22],[2015.05,34.9],[2015.07,51.4],[2015.12,10.6],[2015.15,54.9],[2015.20,29.1],[2015.24,37.7],[2015.30,39.1],[2015.34,46.3],[2015.37,6.3],[2015.40,26.3],[2015.45,36.3],[2015.48,33.4],[2015.51,23.4],[2015.53,24.9],[2015.55,78.3],[2015.60,37.7],[2015.63,14.9],[2015.66,30.6],[2015.71,29.1],[2015.72,34.9],[2015.75,14.9],[2015.77,171.4],[2015.78,37.7],[2015.81,80.6],[2015.84,26.3],[2015.86,26.3],[2015.88,97.1],[2015.92,46.3],[2015.94,32],[2015.96,20.6],[2015.98,66.3],[2016.02,36.3],[2016.06,20.6],[2016.11,37.7],[2016.14,23.4],[2016.17,36.3],[2016.22,56.3],[2016.24,90.6],[2016.25,26.3],[2016.27,46.3],[2016.31,20.6],[2016.34,23.4],[2016.37,30.6],[2016.41,34.9],[2016.45,20.6],[2016.48,34.9],[2016.52,34.9],[2016.54,14.9],[2016.58,9.1],[2016.61,23.4],[2016.64,23.4],[2016.66,27.7],[2016.70,27.7],[2016.73,9.1],[2016.76,20.6],[2016.78,26.3],[2016.80,111.1],[2016.82,20.6],[2016.93,34.9],[2016.95,14.9],[2016.97,27.7],[2016.99,43.4],[2017.02,20.6],[2017.03,36.3],[2017.05,26.3],[2017.07,94.3],[2017.09,17.7],[2017.11,20.6],[2017.14,20.6],[2017.17,26.3],[2017.19,90.6],[2017.20,34.9],[2017.22,12],[2017.27,52.6],[2017.31,12],[2017.32,36.3],[2017.34,14.9],[2017.37,49.1],[2017.39,9.1],[2017.41,84.9],[2017.42,33.4],[2017.44,102],[2017.47,9.1],[2017.50,9.1],[2017.53,13.4],[2017.57,9.1],[2017.59,30.6],[2017.62,107.7],[2017.64,32],[2017.66,69.1],[2017.68,37.7],[2017.71,12],[2017.74,20.6],[2017.75,20.6],[2017.78,46.3],[2017.80,59.1],[2017.83,43.4],[2017.84,39.1],[2017.87,14.9],[2017.90,12],[2017.93,20.6],[2017.97,12],[2017.98,27.7],[2018.01,9.1],[2018.04,24.9],[2018.05,95.7],[2018.08,85.7],[2018.12,17.7],[2018.14,52],[2018.17,12],[2018.19,3.4],[2018.21,64.9],[2018.23,77.7],[2018.25,26.3],[2018.28,12],[2018.31,49.1],[2018.35,29.1],[2018.37,17.7],[2018.39,20.6],[2018.42,26.3],[2018.46,9.1],[2018.48,19.1],[2018.49,36.3]];
const p6JaguariSpans = [[2014.66,2015.08],[2015.10,2016.83],[2016.92,2018.50]];

// ---------------- DRAWING ----------------
const BLUE = "#5B9BD5", ORANGE = "#ED7D31", GREY = "#A5A5A5";
const FONT = "Lato, 'Open Sans', sans-serif";
const BOLD = "'Liberation Sans', Arial, Helvetica, sans-serif";
const DAY = 864e5;

function yr(y){ const Y=Math.floor(y); const a=Date.UTC(Y,0,1), b=Date.UTC(Y+1,0,1); return new Date(a+(y-Y)*(b-a)); }
function dmy(s){ const [d,m,y]=s.split("/").map(Number); return new Date(Date.UTC(2000+y,m-1,d)); }

const svg = d3.select("#chart");
svg.append("rect").attr("width",3125).attr("height",2005).attr("fill","#fff");
// outer frame
svg.append("line").attr("x1",24).attr("x2",3125).attr("y1",34).attr("y2",34).attr("stroke","#4a4a4a").attr("stroke-width",2);
svg.append("line").attr("x1",24).attr("x2",24).attr("y1",34).attr("y2",2005).attr("stroke","#4a4a4a").attr("stroke-width",2);

// group titles
[["Grupo 1",866,126],["Grupo 2",2408,126],["Grupo 3",1594,1425]].forEach(([t,x,y])=>{
  svg.append("text").attr("x",x).attr("y",y).attr("text-anchor","middle")
    .attr("font-family",BOLD).attr("font-weight","bold").attr("font-size",75).attr("fill","#000").text(t);
});

const panels = [
  {x0:102,x1:1490,y0:257,y1:596,domain:["10/8/11","10/8/18"],ticks:p1TickLabels,
   yL:[0,12],yLT:[0,2,4,6,8,10,12],yR:[0,120],yRT:[0,50,100],level:p1Level,
   rains:[[p1Rosario,p1RosarioSpans,ORANGE],[p1PCD,p1PCDSpans,GREY]],
   legend:[[seriesNames.level,BLUE],["Total Plu Rosário do Sul (mm)",ORANGE],[seriesNames.pcd,GREY]],
   legX:810,legY:655,legF:29,axF:29,sub:"CORSAN, Rosário do Sul 4300020532",subX:880,subY:731},
  {x0:1722,x1:3088,y0:257,y1:594,domain:["30/9/10","16/8/18"],ticks:p2TickLabels,
   yL:[8,12],yLT:[8,9,10,11,12],yR:[0,100],yRT:[0,50,100],level:p2Level,
   rains:[[p2BomRetiro,p2BomRetiroSpans,ORANGE],[p2PCD,p2PCDSpans,GREY]],
   legend:[[seriesNames.level,BLUE],["Total Plu Bom Retiro (mm)",ORANGE],[seriesNames.pcd,GREY]],
   legX:2415,legY:654,legF:29,axF:29,sub:"Azevedo Sodré 4300020125",subX:2414,subY:731},
  {x0:102,x1:1487,y0:849,y1:1184,domain:["28/9/10","12/8/18"],ticks:p3TickLabels,
   yL:[31,35],yLT:[31,32,33,34,35],yR:[0,150],yRT:[0,50,100,150],level:p3Level,
   rains:[[p3BR293,p3BR293Spans,ORANGE]],
   legend:[[seriesNames.level,BLUE],["Total Plu BR293 (mm)",ORANGE]],
   legX:806,legY:1244,legF:29,axF:29,sub:"Santa Rita 4300020123",subX:868,subY:1310},
  {x0:1720,x1:3085,y0:849,y1:1181,domain:["28/9/10","17/8/18"],ticks:p4TickLabels,
   yL:[16,19],yLT:[16,17,18,19],yR:[0,150],yRT:[0,50,100,150],level:p4Level,
   rains:[[p4BR293,p4BR293Spans,ORANGE],[p4PCD,p4PCDSpans,GREY]],
   legend:[[seriesNames.level,BLUE],["Total Plu BR293 (mm)",ORANGE],[seriesNames.pcd,GREY]],
   legX:2412,legY:1241,legF:29,axF:29,sub:"Torrão 4300020126",subX:2408,subY:1310},
  {x0:93,x1:1487,y0:1540,y1:1833,domain:["15/8/13","10/8/18"],ticks:p5TickLabels,
   yL:[10,18],yLT:[10,12,14,16,18],yR:[0,200],yRT:[0,50,100,150,200],level:p5Level,
   rains:[[p5Torupi,p5TorupiSpans,ORANGE],[p5PCD,p5PCDSpans,GREY]],
   legend:[[seriesNames.level,BLUE],["Total Plu Ponte Torupi II (mm)",ORANGE],[seriesNames.pcd,GREY]],
   legX:802,legY:1887,legF:24,axF:24,sub:"São Pedro do Sul, 4300021601",subX:885,subY:1968},
  {x0:1717,x1:3083,y0:1540,y1:1837,domain:["29/8/14","3/9/18"],ticks:p6TickLabels,
   yL:[22,30],yLT:[22,24,26,28,30],yR:[0,200],yRT:[0,50,100,150,200],level:p6Level,
   rains:[[p6Jaguari,p6JaguariSpans,ORANGE]],
   legend:[[seriesNames.level,BLUE],["Total Plu Jaguari (mm)",ORANGE]],
   legX:2411,legY:1898,legF:29,axF:29,sub:"Jaguari, 43000226351",subX:2412,subY:1968}
];

function styleAxis(sel, size){
  sel.attr("font-family",FONT).attr("font-size",size);
  sel.select(".domain").remove();
  sel.selectAll(".tick line").attr("stroke","#a6a6a6").attr("stroke-width",2);
  sel.selectAll(".tick text").attr("fill","#000");
}

panels.forEach((c,i)=>{
  const x = d3.scaleUtc().domain(c.domain.map(dmy)).range([c.x0,c.x1]);
  const yL = d3.scaleLinear().domain(c.yL).range([c.y0,c.y1]);
  const yR = d3.scaleLinear().domain(c.yR).range([c.y1,c.y0]);
  const g = svg.append("g");

  const clipId = "clip"+i;
  g.append("clipPath").attr("id",clipId).append("rect")
    .attr("x",c.x0-2).attr("y",c.y0).attr("width",c.x1-c.x0+4).attr("height",c.y1-c.y0+4);

  // gridlines
  g.append("g").selectAll("line").data(c.yLT).join("line")
    .attr("x1",c.x0).attr("x2",c.x1).attr("y1",d=>yL(d)).attr("y2",d=>yL(d))
    .attr("stroke","#a6a6a6").attr("stroke-width",2);
  // vertical axis lines
  g.append("line").attr("x1",c.x0).attr("x2",c.x0).attr("y1",c.y0).attr("y2",c.y1).attr("stroke","#a6a6a6").attr("stroke-width",2);
  g.append("line").attr("x1",c.x1).attr("x2",c.x1).attr("y1",c.y0).attr("y2",c.y1).attr("stroke","#a6a6a6").attr("stroke-width",2);

  // left axis
  g.append("g").attr("transform",`translate(${c.x0},0)`)
    .call(d3.axisLeft(yL).tickValues(c.yLT).tickSize(9).tickPadding(18).tickFormat(d3.format("d")))
    .call(s=>styleAxis(s,c.axF));
  // right axis
  g.append("g").attr("transform",`translate(${c.x1},0)`)
    .call(d3.axisRight(yR).tickValues(c.yRT).tickSize(9).tickPadding(21).tickFormat(d3.format("d")))
    .call(s=>styleAxis(s,c.axF));
  // top date axis
  const tv = c.ticks.map(dmy);
  g.append("g").attr("transform",`translate(0,${c.y0})`)
    .call(d3.axisTop(x).tickValues(tv).tickFormat((d,k)=>c.ticks[k]).tickSize(10).tickPadding(20))
    .call(s=>{ styleAxis(s,28.5); s.selectAll(".tick line").attr("stroke","#8c8c8c"); });

  const plot = g.append("g").attr("clip-path",`url(#${clipId})`);
  // level line
  const lvl = d3.line().defined(d=>d[1]!=null).x(d=>x(yr(d[0]))).y(d=>yL(d[1]));
  plot.append("path").attr("d",lvl(c.level)).attr("fill","none").attr("stroke",BLUE)
    .attr("stroke-width",4.2).attr("stroke-linejoin","round").attr("stroke-linecap","round");

  // rainfall series
  const rl = d3.line().x(d=>x(d[0])).y(d=>yR(d[1]));
  c.rains.forEach(([ev,spans,color])=>{
    let dstr = "";
    spans.forEach(([a,b])=>{
      const pts=[[yr(a),0]];
      ev.filter(e=>e[0]>=a&&e[0]<=b).sort((p,q)=>p[0]-q[0]).forEach(([t,v])=>{
        const ms=yr(t).getTime();
        pts.push([new Date(ms-DAY),0],[new Date(ms),v],[new Date(ms+DAY),0]);
      });
      pts.push([yr(b),0]);
      dstr += rl(pts);
    });
    plot.append("path").attr("d",dstr).attr("fill","none").attr("stroke",color)
      .attr("stroke-width",3.8).attr("stroke-linejoin","round");
  });

  // top axis line
  g.append("line").attr("x1",c.x0).attr("x2",c.x1).attr("y1",c.y0).attr("y2",c.y0).attr("stroke","#8c8c8c").attr("stroke-width",2.5);

  // legend
  const lg = g.append("g");
  const items = c.legend.map(([label,color])=>{
    const it = lg.append("g");
    it.append("line").attr("x1",0).attr("x2",52).attr("y1",0).attr("y2",0).attr("stroke",color).attr("stroke-width",4);
    const t = it.append("text").attr("x",57).attr("dy","0.35em").attr("font-family",FONT)
      .attr("font-size",c.legF).attr("fill","#000").text(label);
    return [it, 57 + t.node().getComputedTextLength()];
  });
  const gap = 55;
  const total = d3.sum(items,d=>d[1]) + gap*(items.length-1);
  let xx = c.legX - total/2;
  items.forEach(([it,w])=>{ it.attr("transform",`translate(${xx},${c.legY})`); xx += w + gap; });

  // subtitle
  g.append("text").attr("x",c.subX).attr("y",c.subY).attr("dy","0.36em").attr("text-anchor","middle")
    .attr("font-family",BOLD).attr("font-weight","bold").attr("font-size",37).attr("fill","#000").text(c.sub);
});
</script>
</body></html>
